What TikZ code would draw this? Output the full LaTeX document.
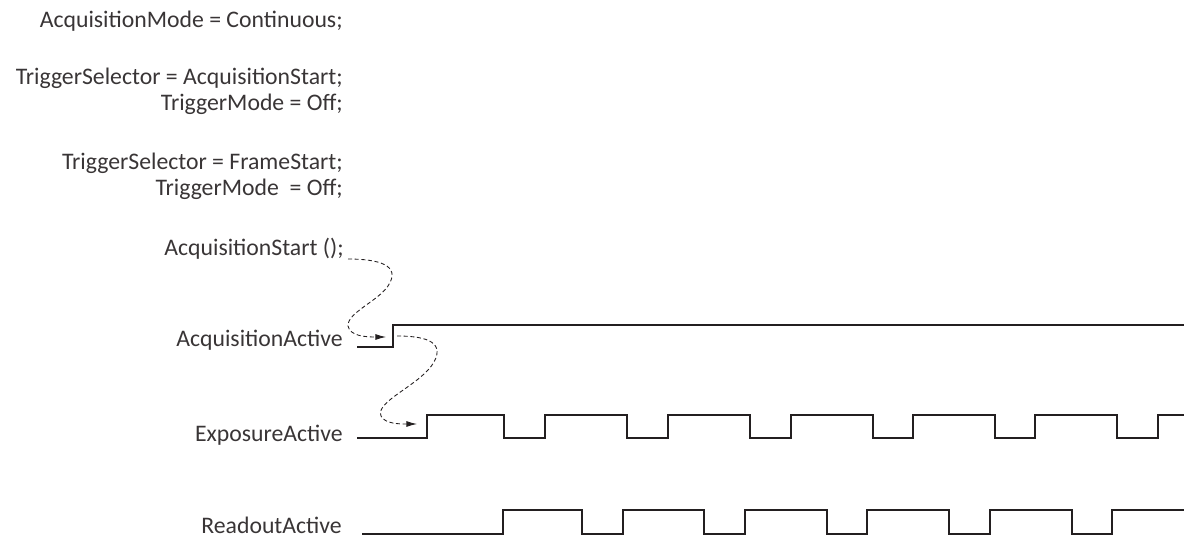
\documentclass[tikz,border=0pt]{standalone}
\usepackage{fontspec}
\setmainfont{Carlito}
\usetikzlibrary{arrows.meta}
\definecolor{ink}{HTML}{231F20}
\begin{document}
\begin{tikzpicture}[x=0.75pt,y=-0.75pt,
  lbl/.style={anchor=base east, inner sep=0pt, font=\fontsize{17.8}{21}\selectfont, text=ink!90},
  wave/.style={draw=ink, line width=2pt, line join=miter},
  flow/.style={draw=ink, line width=0.65pt, dash pattern=on 3pt off 2pt, -{Latex[length=8pt,width=4.5pt]}}]
\useasboundingbox (0,0) rectangle (1184,538);
\node[lbl] (l1) at (343,28) {AcquisitionMode = Continuous;};
\node[lbl] (l2) at (343,85) {TriggerSelector = AcquisitionStart;};
\node[lbl] (l3) at (343,111) {TriggerMode = Off;};
\node[lbl] (l4) at (343,170) {TriggerSelector = FrameStart;};
\node[lbl] (l5) at (343,196) {TriggerMode\ \ = Off;};
\node[lbl] (as) at (344,255) {AcquisitionStart ();};
\node[lbl] (aa) at (343,346) {AcquisitionActive};
\node[lbl] (ea) at (343,441) {ExposureActive};
\node[lbl] (ra) at (342,533) {ReadoutActive};
% waveforms
\draw[wave] (357,347) -- (393,347) -- (393,325) -- (1184,325);
\draw[wave] (357,438) -- (427,438)
  \foreach \r/\f in {427/504,545/627,668/750,791/873,913/995,1035/1117} { -- (\r,438) -- (\r,415) -- (\f,415) -- (\f,438) }
  -- (1158,438) -- (1158,415) -- (1184,415);
\draw[wave] (362,534)
  \foreach \r/\f in {503/582,623/704,745/827,867/949,990/1072} { -- (\r,534) -- (\r,510) -- (\f,510) -- (\f,534) }
  -- (1112,534) -- (1112,510) -- (1184,510);
% dashed cause arrows
\coordinate (s1) at (348,259);
\coordinate (t1) at (386,337);
\coordinate (s2) at (397,336);
\coordinate (t2) at (417,424);
\draw[flow] (s1) .. controls (378,259) and (402,265) .. (388,286)
  .. controls (378,301) and (347,313) .. (348,326)
  .. controls (350,336) and (365,337) .. (t1);
\draw[flow] (s2) .. controls (421,336) and (446,340) .. (434,362)
  .. controls (421,385) and (375,401) .. (381,416)
  .. controls (385,424) and (400,424) .. (t2);
\end{tikzpicture}
\end{document}
